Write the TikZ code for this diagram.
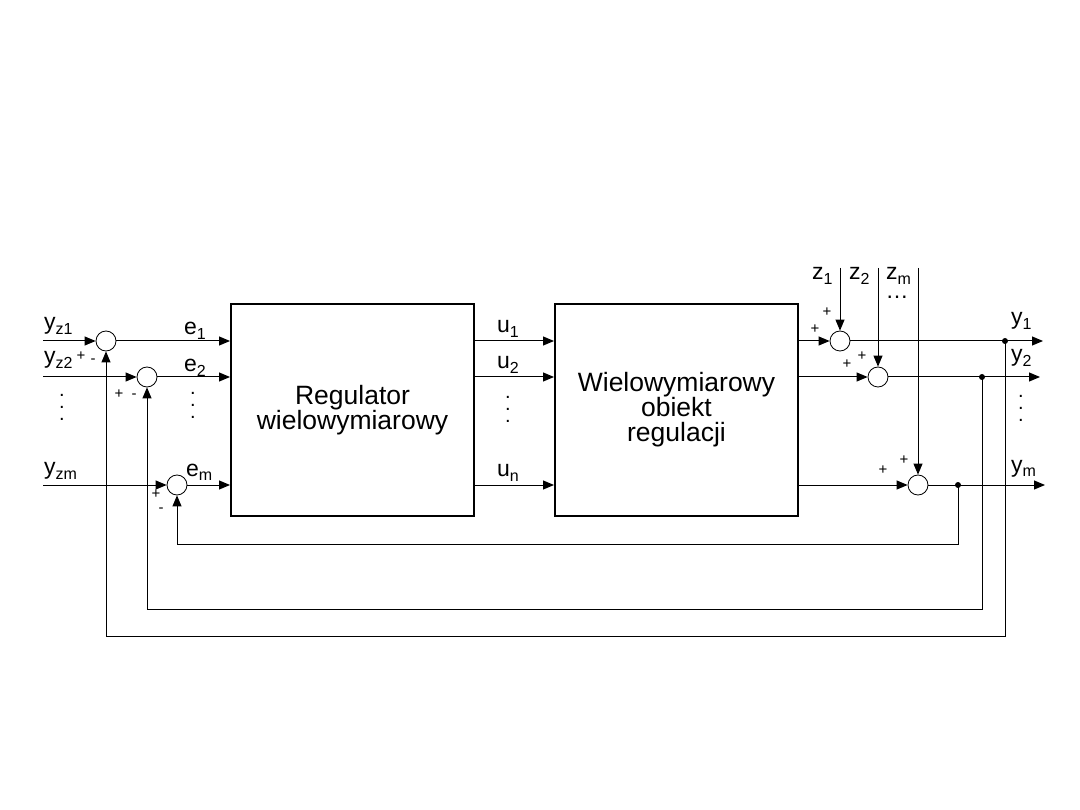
\documentclass[tikz,border=0pt]{standalone}
\usepackage{fontspec}
\setmainfont{Liberation Sans}
\usetikzlibrary{arrows.meta,positioning}

\newcommand{\lowidx}[1]{\raisebox{-5pt}{\fontsize{16}{16}\selectfont #1}}

\begin{document}
\begin{tikzpicture}[x=1pt,y=-1pt,
    every node/.style={font=\fontsize{23}{24}\selectfont},
    blok/.style={draw,line width=2pt,minimum width=243pt,minimum height=212pt,
                 align=center,font=\fontsize{26.5}{25}\selectfont},
    sum/.style={draw,circle,line width=0.8pt,minimum size=20pt,inner sep=0pt},
    sig/.style={line width=1pt,-{Triangle[length=11pt,width=9pt]}},
    sgn/.style={font=\fontsize{15}{15}\selectfont,inner sep=0pt},
    lbl/.style={anchor=base west,inner sep=0pt},
    vdot/.style={align=center,inner sep=0pt,font=\fontsize{20}{12}\selectfont},
    dot/.style={circle,fill,inner sep=0pt,minimum size=6pt}]

    \useasboundingbox (0,0) rectangle (1080,810);

    % bloki
    \node[blok] (reg) at (352.5,410) {Regulator\\wielowymiarowy};
    \node[blok] (obj) at (676.5,410) {Wielowymiarowy\\obiekt\\regulacji};

    % wezly sumacyjne
    \node[sum] (s1) at (106,341) {};
    \node[sum] (s2) at (147,377) {};
    \node[sum] (sm) at (177,485) {};
    \node[sum] (o1) at (840,341) {};
    \node[sum] (o2) at (878,377) {};
    \node[sum] (om) at (918,485) {};

    \coordinate (in1) at (43,341);
    \coordinate (in2) at (43,377);
    \coordinate (inm) at (43,485);
    \coordinate (z1) at (840,268);
    \coordinate (z2) at (878,268);
    \coordinate (zm) at (918,268);
    \coordinate (j1) at (1005,341);
    \coordinate (j2) at (982,377);
    \coordinate (jm) at (958,485);
    \coordinate (out1) at (1043,341);
    \coordinate (out2) at (1040,377);
    \coordinate (outm) at (1045,485);

    % wejscia
    \draw[sig] (in1) -- (s1);
    \draw[sig] (in2) -- (s2);
    \draw[sig] (inm) -- (sm);
    \draw[sig] (s1) -- (s1 -| reg.west);
    \draw[sig] (s2) -- (s2 -| reg.west);
    \draw[sig] (sm) -- (sm -| reg.west);
    \draw[sig] (reg.east |- s1) -- (obj.west |- s1);
    \draw[sig] (reg.east |- s2) -- (obj.west |- s2);
    \draw[sig] (reg.east |- sm) -- (obj.west |- sm);

    % zaklocenia i wyjscia
    \draw[sig] (obj.east |- o1) -- (o1);
    \draw[sig] (obj.east |- o2) -- (o2);
    \draw[sig] (obj.east |- om) -- (om);
    \draw[sig] (z1) -- (o1);
    \draw[sig] (z2) -- (o2);
    \draw[sig] (zm) -- (om);
    \draw[sig] (o1) -- (out1);
    \draw[sig] (o2) -- (out2);
    \draw[sig] (om) -- (outm);
    \node[dot] at (j1) {};
    \node[dot] at (j2) {};
    \node[dot] at (jm) {};

    % sprzezenia zwrotne
    \draw[sig] (jm) -- (jm |- 0,544) -| (sm);
    \draw[sig] (j2) -- (j2 |- 0,609) -| (s2);
    \draw[sig] (j1) -- (j1 |- 0,636) -| (s1);

    % opisy
    \node[lbl] at (44,330) {y\lowidx{z1}};
    \node[lbl] at (44,364) {y\lowidx{z2}};
    \node[lbl] at (44,475) {y\lowidx{zm}};
    \node[lbl] at (184,335) {e\lowidx{1}};
    \node[lbl] at (184,372) {e\lowidx{2}};
    \node[lbl] at (186,476) {e\lowidx{m}};
    \node[lbl] at (497,333) {u\lowidx{1}};
    \node[lbl] at (497,369) {u\lowidx{2}};
    \node[lbl] at (497,477) {u\lowidx{n}};
    \node[lbl] at (1011,325) {y\lowidx{1}};
    \node[lbl] at (1011,362) {y\lowidx{2}};
    \node[lbl] at (1011,472) {y\lowidx{m}};
    \node[lbl] at (812,280) {z\lowidx{1}};
    \node[lbl] at (849,280) {z\lowidx{2}};
    \node[lbl] at (886,280) {z\lowidx{m}};
    \node at (897,297) {\dots};

    \foreach \x/\y in {62/407, 193/405, 508/409, 1021/408}
        \node[vdot] at (\x,\y) {.\\.\\.};

    % znaki
    \node[sgn] at (81,356) {+};
    \node[sgn] at (93,361) {-};
    \node[sgn] at (119,394) {+};
    \node[sgn] at (134,396) {-};
    \node[sgn] at (156,494) {+};
    \node[sgn] at (161,510) {-};
    \node[sgn] at (815,329) {+};
    \node[sgn] at (827,312) {+};
    \node[sgn] at (847,364) {+};
    \node[sgn] at (862,356) {+};
    \node[sgn] at (883,470) {+};
    \node[sgn] at (904,460) {+};

\end{tikzpicture}
\end{document}
